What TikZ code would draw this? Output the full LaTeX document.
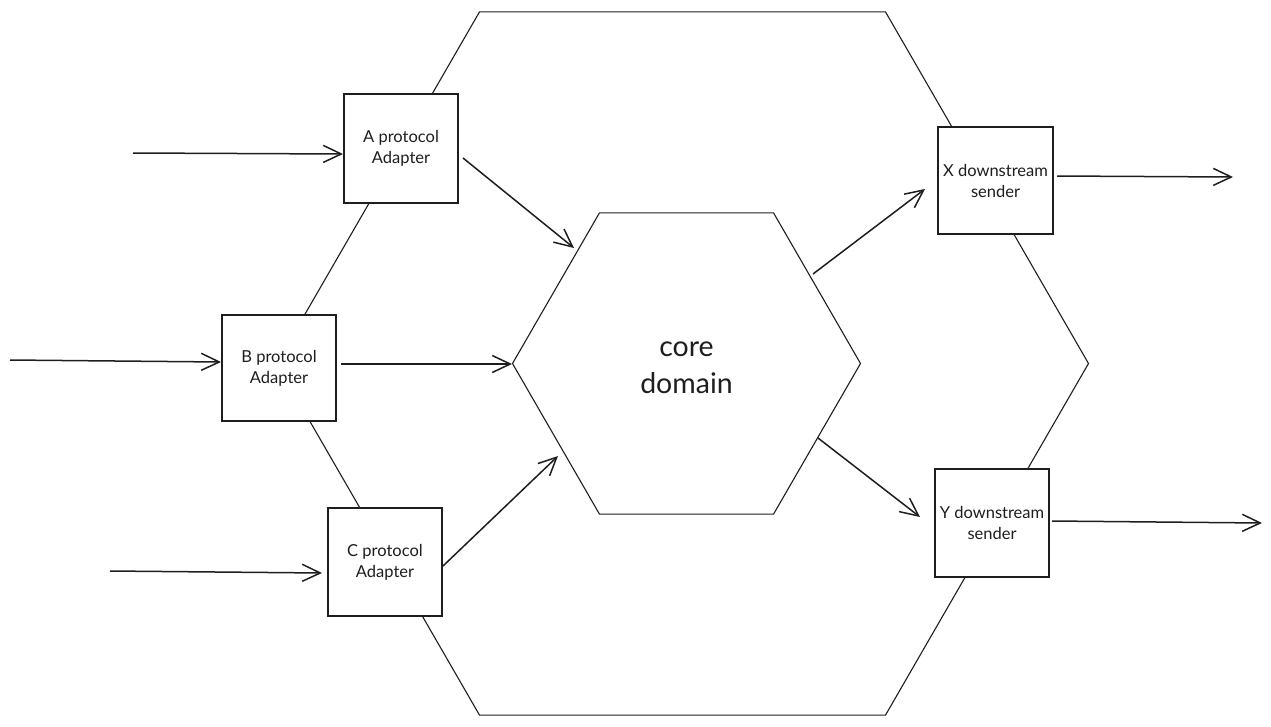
\documentclass[tikz,border=0pt]{standalone}
\usepackage{fontspec}
\setmainfont{Lato}
\usetikzlibrary{shapes.geometric,arrows.meta,calc}
\definecolor{ink}{HTML}{1E1E1E}
\tikzset{
  hexa/.style={regular polygon, regular polygon sides=6, draw=ink, line width=1.1pt, inner sep=0pt, outer sep=0pt},
  box/.style={draw=ink, fill=white, line width=1.4pt, minimum width=114pt, inner sep=0pt, outer sep=0pt, align=center, font=\fontsize{16.5pt}{21pt}\selectfont, text=ink},
  arr/.style={draw=ink, line width=1.5pt, -{Straight Barb[length=18pt,width=17pt,line width=1.5pt]}},
}
\begin{document}
\begin{tikzpicture}[x=1pt,y=-1pt]
\useasboundingbox (0,0) rectangle (1271,726);
% outer hexagon
\node[hexa, minimum size=812pt] (outer) at (682.5,363.5) {};
% core
\node[hexa, minimum size=348pt,
  label={[font=\fontsize{28.5pt}{37pt}\selectfont, align=center, text=ink, yshift=-4pt]center:core\\domain}] (core) at (686.5,363.5) {};
% boxes
\node[box, minimum height=109pt] (A) at (401,148.5) {\raisebox{-2pt}{A protocol}\\\raisebox{-2pt}{Adapter}};
\node[box, minimum height=106pt] (B) at (279,368) {\raisebox{-2pt}{B protocol}\\\raisebox{-2pt}{Adapter}};
\node[box, minimum height=108pt] (C) at (385,562) {\raisebox{-2pt}{C protocol}\\\raisebox{-2pt}{Adapter}};
\node[box, minimum height=107pt, minimum width=115pt] (X) at (995.5,180.5) {\raisebox{-1pt}{X downstream}\\\raisebox{-1pt}{sender}};
\node[box, minimum height=108pt] (Y) at (992,523) {\raisebox{-1pt}{Y downstream}\\\raisebox{-1pt}{sender}};
% free ends
\coordinate (inA) at (133,153);
\coordinate (inB) at (10,360);
\coordinate (inC) at (110,571);
\coordinate (outX) at (1233,177);
\coordinate (outY) at (1262,523);
% inputs
\draw[arr] (inA) -- ($(A.west)+(-1,5.5)$);
\draw[arr] (inB) -- ($(B.west)+(-1,-6)$);
\draw[arr] (inC) -- ($(C.west)+(-6,11)$);
% to core
\draw[arr] ($(A.east)+(5,9.5)$) -- ($(core.center)+(-112.5,-115.5)$);
\draw[arr] ($(B.east)+(5,-4)$) -- ($(core.center)+(-174.5,0.5)$);
\draw[arr] ($(C.east)+(1,4)$) -- ($(core.center)+(-128.5,92.5)$);
% from core
\draw[arr] ($(core.center)+(126.5,-89.5)$) -- ($(X.west)+(-13,8.5)$);
\draw[arr] ($(core.center)+(131.5,74.5)$) -- ($(Y.west)+(-15,-6)$);
% outputs
\draw[arr] ($(X.east)+(4,-4.5)$) -- (outX);
\draw[arr] ($(Y.east)+(3,-2)$) -- (outY);
\end{tikzpicture}
\end{document}
